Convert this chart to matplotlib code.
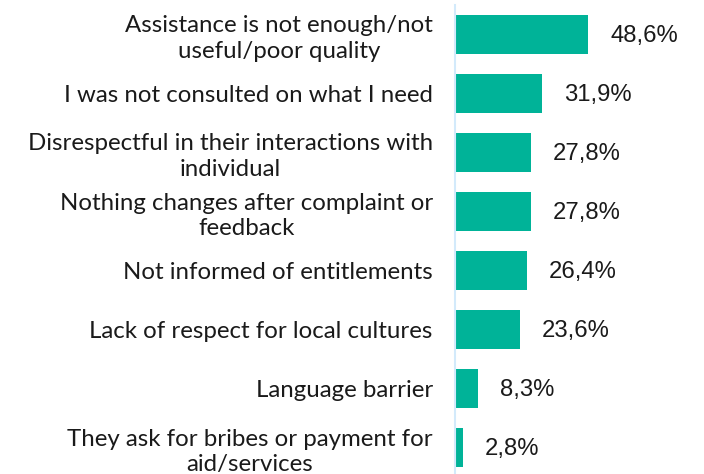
import matplotlib.pyplot as plt

plt.rcParams['font.family'] = ['Lato', 'DejaVu Sans']

categories = [
    "Assistance is not enough/not\nuseful/poor quality",
    "I was not consulted on what I need",
    "Disrespectful in their interactions with\nindividual",
    "Nothing changes after complaint or\nfeedback",
    "Not informed of entitlements",
    "Lack of respect for local cultures",
    "Language barrier",
    "They ask for bribes or payment for\naid/services",
]
values = [48.6, 31.9, 27.8, 27.8, 26.4, 23.6, 8.3, 2.8]

fig = plt.figure(figsize=(7.04, 4.74), dpi=100)
ax = fig.add_axes([455 / 704, -3 / 474, 249 / 704, 472 / 474])

y = range(len(values))
bars = ax.barh(y, values, height=0.66, color='#00B398')
for b, v in zip(bars, values):
    ax.text(b.get_width() + 8.0, b.get_y() + b.get_height() / 2 + 0.03,
            f"{v:.1f}%".replace('.', ','), va='center', ha='left',
            fontsize=17.2, color='#1a1a1a', family='Liberation Sans')

ax.set_ylim(7.5, -0.5)
ax.set_xlim(0, 90.9)
ax.set_yticks(list(y))
ax.set_yticklabels(categories, fontsize=17.3, color='#1a1a1a', linespacing=1.25)
for lab in ax.get_yticklabels():
    lab.set_horizontalalignment('right')
    lab.set_multialignment('center')
ax.tick_params(axis='y', length=0, pad=16)
ax.set_xticks([])
for side in ['top', 'right', 'bottom']:
    ax.spines[side].set_visible(False)
ax.spines['left'].set_color('#d3eafb')
ax.spines['left'].set_linewidth(1.5)

fig.savefig('out.png', dpi=100)
